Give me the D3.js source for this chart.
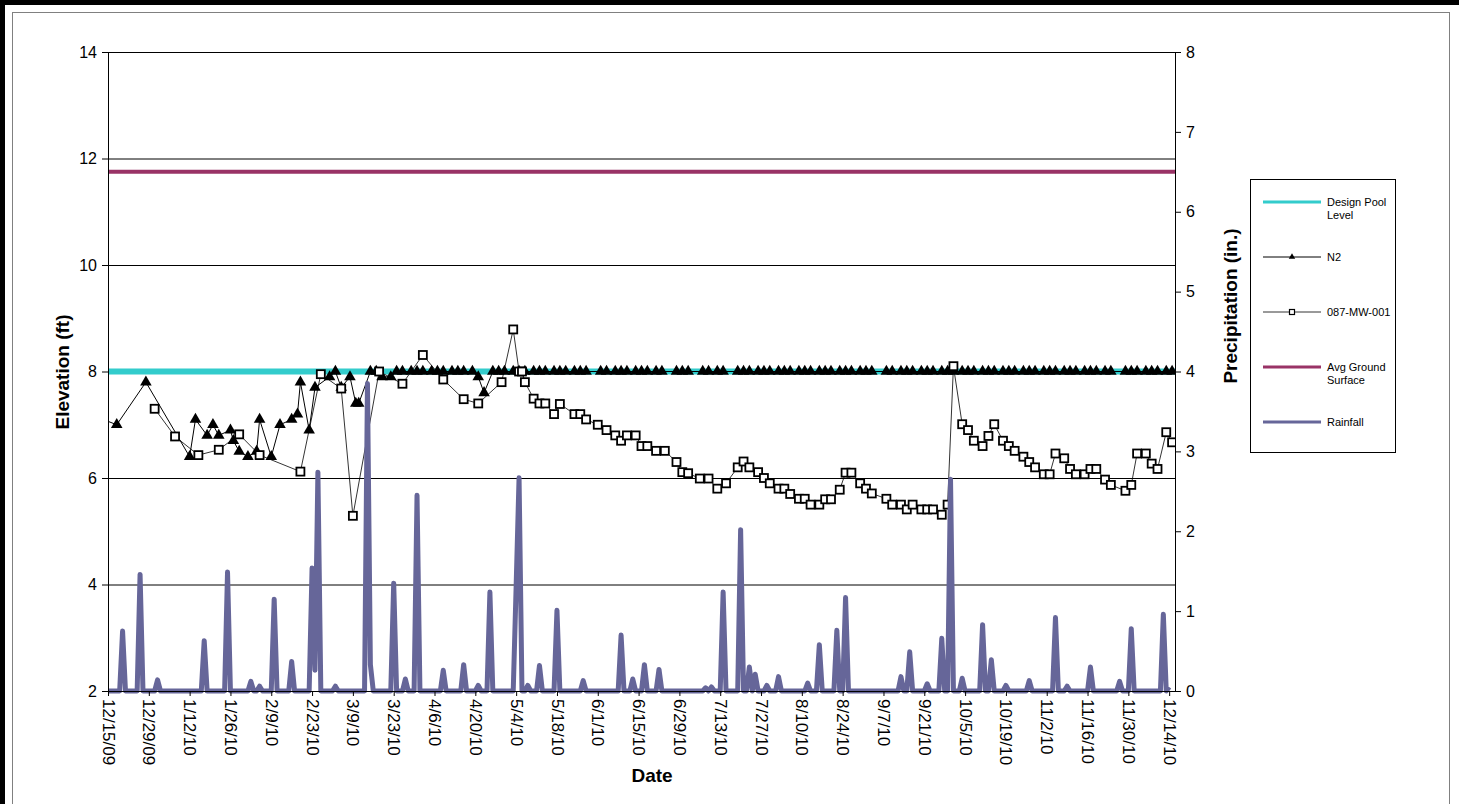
<!DOCTYPE html>
<html lang="en">
<head>
    <meta charset="UTF-8">
    <title>Elevation and Rainfall</title>
    <script src="https://cdn.jsdelivr.net/npm/d3@7"></script>
    <style>
        body{
            margin: 0;
            background: #fff;
            font-family: "Liberation Sans", Arial, sans-serif;
        }
        .axis text{
            font-family: "Liberation Sans", Arial, sans-serif;
            font-size: 16px;
            fill: #000;
        }
        .xAxis text{
            font-size: 17px;
        }
        .axis path, .axis line{
            stroke: #000;
        }
        .grid line{
            stroke: #000;
            stroke-width: 1;
        }
        .grid path{
            display: none;
        }
        .title{
            font-family: "Liberation Sans", Arial, sans-serif;
            font-weight: bold;
            font-size: 19px;
        }
        .legend text{
            font-family: "Liberation Sans", Arial, sans-serif;
            font-size: 11px;
        }
    </style>
</head>
<body>
<svg id="main" width="1459" height="804"></svg>
<script>
    // tick labels
    const xTickLabels = ["12/15/09","12/29/09","1/12/10","1/26/10","2/9/10","2/23/10","3/9/10","3/23/10",
        "4/6/10","4/20/10","5/4/10","5/18/10","6/1/10","6/15/10","6/29/10","7/13/10","7/27/10","8/10/10",
        "8/24/10","9/7/10","9/21/10","10/5/10","10/19/10","11/2/10","11/16/10","11/30/10","12/14/10"]
    const elevTicks = [2,4,6,8,10,12,14]
    const precipTicks = [0,1,2,3,4,5,6,7,8]

    // constant reference levels (ft)
    const designPoolLevel = 8.0
    const avgGroundSurface = 11.75

    // N2
    const n2Dates = ["12/11/09","12/18/09","12/28/09","1/12/10","1/14/10","1/18/10","1/20/10","1/22/10","1/26/10",
        "1/27/10","1/29/10","2/1/10","2/4/10","2/5/10","2/9/10","2/12/10","2/16/10","2/18/10","2/19/10","2/22/10",
        "2/24/10","3/1/10","3/3/10","3/5/10","3/8/10","3/10/10","3/11/10",
        "3/15/10","3/17/10","3/19/10","3/22/10","3/24/10","3/26/10","3/29/10","3/31/10",
        "4/2/10","4/5/10","4/7/10","4/9/10","4/12/10","4/14/10","4/16/10","4/19/10","4/21/10","4/23/10","4/26/10","4/28/10","4/30/10",
        "5/3/10","5/5/10","5/7/10","5/10/10","5/12/10","5/14/10","5/17/10","5/19/10","5/21/10","5/24/10","5/26/10","5/28/10",
        "6/2/10","6/4/10","6/7/10","6/9/10","6/11/10","6/14/10","6/16/10","6/18/10","6/21/10","6/23/10","6/28/10","6/30/10",
        "7/2/10","7/7/10","7/9/10","7/12/10","7/14/10","7/19/10","7/21/10","7/23/10","7/26/10","7/28/10","7/30/10",
        "8/2/10","8/4/10","8/6/10","8/9/10","8/11/10","8/13/10","8/16/10","8/18/10","8/20/10","8/23/10","8/25/10","8/27/10","8/30/10",
        "9/1/10","9/3/10","9/8/10","9/10/10","9/13/10","9/15/10","9/17/10","9/20/10","9/22/10","9/24/10","9/27/10","9/29/10",
        "10/1/10","10/4/10","10/6/10","10/8/10","10/11/10","10/13/10","10/15/10","10/18/10","10/20/10","10/22/10","10/25/10","10/27/10","10/29/10",
        "11/1/10","11/3/10","11/5/10","11/8/10","11/10/10","11/12/10","11/15/10","11/17/10","11/19/10","11/22/10","11/24/10","11/29/10",
        "12/1/10","12/3/10","12/6/10","12/8/10","12/10/10","12/13/10","12/15/10"]
    const n2Values = [7.15,7.0,7.8,6.4,7.1,6.8,7.0,6.8,6.9,
        6.7,6.5,6.4,6.5,7.1,6.4,7.0,7.1,7.2,7.8,6.9,
        7.7,7.9,8.0,7.7,7.9,7.4,7.4,
        8.0,8.0,7.9,7.9,8.0,8.0,8.0,8.0,
        8.0,8.0,8.0,8.0,8.0,8.0,8.0,8.0,7.9,7.6,8.0,8.0,8.0,
        8.0,8.0,8.0,8.0,8.0,8.0,8.0,8.0,8.0,8.0,8.0,8.0,
        8.0,8.0,8.0,8.0,8.0,8.0,8.0,8.0,8.0,8.0,8.0,8.0,
        8.0,8.0,8.0,8.0,8.0,8.0,8.0,8.0,8.0,8.0,8.0,
        8.0,8.0,8.0,8.0,8.0,8.0,8.0,8.0,8.0,8.0,8.0,8.0,8.0,
        8.0,8.0,8.0,8.0,8.0,8.0,8.0,8.0,8.0,8.0,8.0,8.0,
        8.0,8.0,8.0,8.0,8.0,8.0,8.0,8.0,8.0,8.0,8.0,8.0,8.0,
        8.0,8.0,8.0,8.0,8.0,8.0,8.0,8.0,8.0,8.0,8.0,8.0,
        8.0,8.0,8.0,8.0,8.0,8.0,8.0]

    // 087-MW-001
    const mwDates = ["12/31/09","1/7/10","1/15/10","1/22/10","1/29/10","2/5/10","2/19/10","2/26/10","3/5/10","3/9/10",
        "3/18/10","3/26/10","4/2/10","4/9/10","4/16/10","4/21/10","4/29/10","5/3/10","5/5/10","5/6/10","5/7/10",
        "5/10/10","5/12/10","5/14/10","5/17/10","5/19/10","5/24/10","5/26/10","5/28/10",
        "6/1/10","6/4/10","6/7/10","6/9/10","6/11/10","6/14/10","6/16/10","6/18/10","6/21/10","6/24/10","6/28/10","6/30/10",
        "7/2/10","7/6/10","7/9/10","7/12/10","7/15/10","7/19/10","7/21/10","7/23/10","7/26/10","7/28/10","7/30/10",
        "8/2/10","8/4/10","8/6/10","8/9/10","8/11/10","8/13/10","8/16/10","8/18/10","8/20/10","8/23/10","8/25/10","8/27/10","8/30/10",
        "9/1/10","9/3/10","9/8/10","9/10/10","9/13/10","9/15/10","9/17/10","9/20/10","9/22/10","9/24/10","9/27/10","9/29/10",
        "10/1/10","10/4/10","10/6/10","10/8/10","10/11/10","10/13/10","10/15/10","10/18/10","10/20/10","10/22/10","10/25/10","10/27/10","10/29/10",
        "11/1/10","11/3/10","11/5/10","11/8/10","11/10/10","11/12/10","11/15/10","11/17/10","11/19/10","11/22/10","11/24/10","11/29/10",
        "12/1/10","12/3/10","12/6/10","12/8/10","12/10/10","12/13/10","12/15/10"]
    const mwValues = [7.30,6.78,6.43,6.53,6.82,6.43,6.12,7.95,7.68,5.29,
        8.0,7.77,8.31,7.85,7.48,7.40,7.80,8.79,8.0,8.0,7.80,
        7.49,7.40,7.40,7.20,7.39,7.20,7.20,7.10,
        7.00,6.90,6.80,6.70,6.80,6.80,6.60,6.60,6.51,6.51,6.30,6.11,
        6.09,5.99,5.99,5.80,5.90,6.20,6.31,6.20,6.11,6.00,5.90,
        5.80,5.80,5.70,5.61,5.61,5.50,5.50,5.60,5.60,5.78,6.10,6.10,5.90,
        5.80,5.71,5.61,5.50,5.50,5.41,5.50,5.41,5.41,5.41,5.31,5.50,
        8.10,7.01,6.90,6.70,6.60,6.79,7.01,6.70,6.60,6.51,6.40,6.30,6.20,
        6.07,6.07,6.46,6.37,6.17,6.07,6.07,6.17,6.17,5.97,5.87,5.76,
        5.87,6.46,6.46,6.27,6.17,6.86,6.67]

    // Rainfall (in.), days with rain; every other day of the record is 0
    const rainDates = ["12/20/09","12/26/09","1/1/10","1/17/10","1/25/10","2/2/10","2/5/10","2/10/10","2/16/10",
        "2/23/10","2/24/10","2/25/10","3/3/10","3/14/10","3/15/10","3/23/10","3/27/10","3/31/10","4/9/10","4/16/10",
        "4/21/10","4/25/10","5/4/10","5/5/10","5/8/10","5/12/10","5/18/10","5/27/10","6/9/10","6/13/10","6/17/10",
        "6/22/10","7/8/10","7/10/10","7/14/10","7/20/10","7/23/10","7/25/10","7/29/10","8/2/10","8/12/10","8/16/10",
        "8/22/10","8/25/10","9/13/10","9/16/10","9/22/10","9/27/10","9/30/10","10/4/10","10/11/10","10/14/10",
        "10/19/10","10/27/10","11/5/10","11/9/10","11/17/10","11/27/10","12/1/10","12/12/10","12/14/10"]
    const rainValues = [0.75,1.46,0.14,0.63,1.49,0.12,0.06,1.15,0.37,
        1.54,0.26,2.74,0.06,3.85,0.33,1.35,0.15,2.45,0.26,0.33,
        0.07,1.24,1.31,2.67,0.07,0.32,1.01,0.13,0.70,0.15,0.33,
        0.27,0.04,0.05,1.24,2.02,0.30,0.21,0.07,0.18,0.10,0.58,
        0.76,1.17,0.18,0.49,0.09,0.66,2.65,0.16,0.83,0.39,
        0.07,0.13,0.92,0.06,0.30,0.12,0.78,0.96,0.05]

    const parse = d3.timeParse("%m/%d/%y")
    const width = 1459, height = 804
    const plot = {left: 108, right: 1175, top: 52, bottom: 691}

    const startDate = parse("12/15/09"), endDate = parse("12/16/10")

    const xScale = d3.scaleTime()
        .domain([startDate, endDate])
        .range([plot.left, plot.right])
    const yLeft = d3.scaleLinear()
        .domain([2, 14])
        .range([plot.bottom, plot.top])
    const yRight = d3.scaleLinear()
        .domain([0, 8])
        .range([plot.bottom, plot.top])

    const n2 = n2Dates.map((d, i) => ({date: parse(d), value: n2Values[i]}))
    const mw = mwDates.map((d, i) => ({date: parse(d), value: mwValues[i]}))
    const rainLookup = new Map(rainDates.map((d, i) => [+parse(d), rainValues[i]]))
    const rain = d3.timeDay.range(startDate, parse("12/15/10"))
        .map(d => ({date: d, value: rainLookup.get(+d) || 0}))

    const svg = d3.select("svg#main")

    // outer frame
    svg.append("rect").attr("x", 0).attr("y", 0).attr("width", width).attr("height", 5).attr("fill", "#000")
    svg.append("rect").attr("x", 0).attr("y", 0).attr("width", 5).attr("height", height).attr("fill", "#000")
    svg.append("rect").attr("x", 12.5).attr("y", 12.5).attr("width", 1437).attr("height", 820)
        .attr("fill", "none").attr("stroke", "#808080")

    svg.append("clipPath").attr("id", "plotClip")
        .append("rect")
        .attr("x", plot.left).attr("y", plot.top - 10)
        .attr("width", plot.right - plot.left).attr("height", plot.bottom - plot.top + 20)

    // gridlines
    svg.append("g")
        .attr("class", "grid")
        .attr("transform", `translate(${plot.left},0)`)
        .call(d3.axisLeft(yLeft).tickValues(elevTicks).tickSize(-(plot.right - plot.left)).tickFormat(""))

    const group = svg.append("g").attr("clip-path", "url(#plotClip)")

    const lineLeft = d3.line().x(d => xScale(d.date)).y(d => yLeft(d.value))

    // Design Pool Level
    group.append("path")
        .datum([{date: startDate, value: designPoolLevel}, {date: endDate, value: designPoolLevel}])
        .attr("d", lineLeft)
        .attr("stroke", "#33CCCC").attr("stroke-width", 6).attr("fill", "none")

    // N2
    group.append("path")
        .datum(n2)
        .attr("d", lineLeft)
        .attr("stroke", "#000").attr("stroke-width", 1).attr("fill", "none")
    group.selectAll(".n2")
        .data(n2)
        .enter().append("path")
        .attr("class", "n2")
        .attr("transform", d => `translate(${xScale(d.date)},${yLeft(d.value)})`)
        .attr("d", d3.symbol(d3.symbolTriangle).size(58))
        .attr("fill", "#000")

    // 087-MW-001
    group.append("path")
        .datum(mw)
        .attr("d", lineLeft)
        .attr("stroke", "#000").attr("stroke-width", 0.8).attr("fill", "none")
    group.selectAll(".mw")
        .data(mw)
        .enter().append("rect")
        .attr("class", "mw")
        .attr("x", d => xScale(d.date) - 4)
        .attr("y", d => yLeft(d.value) - 4)
        .attr("width", 8).attr("height", 8)
        .attr("fill", "#fff").attr("stroke", "#000").attr("stroke-width", 1.8)

    // Avg Ground Surface
    group.append("path")
        .datum([{date: startDate, value: avgGroundSurface}, {date: endDate, value: avgGroundSurface}])
        .attr("d", lineLeft)
        .attr("stroke", "#993366").attr("stroke-width", 4).attr("fill", "none")

    // Rainfall on the right axis
    group.append("path")
        .datum(rain)
        .attr("d", d3.line().x(d => xScale(d.date)).y(d => yRight(d.value)))
        .attr("stroke", "#666699").attr("stroke-width", 5).attr("stroke-linejoin", "round")
        .attr("fill", "none")

    // axes
    svg.append("g")
        .attr("class", "axis")
        .attr("transform", `translate(${plot.left},0)`)
        .call(d3.axisLeft(yLeft).tickValues(elevTicks).tickSize(6).tickPadding(5).tickSizeOuter(0))

    svg.append("g")
        .attr("class", "axis")
        .attr("transform", `translate(${plot.right},0)`)
        .call(d3.axisRight(yRight).tickValues(precipTicks).tickSize(6).tickPadding(5).tickSizeOuter(0))

    const xAxisGroup = svg.append("g")
        .attr("class", "axis xAxis")
        .attr("transform", `translate(0,${plot.bottom})`)
        .call(d3.axisBottom(xScale)
            .tickValues(xTickLabels.map(parse))
            .tickFormat((d, i) => xTickLabels[i])
            .tickSize(5).tickSizeOuter(0))
    xAxisGroup.selectAll("text")
        .attr("transform", "rotate(90)")
        .attr("text-anchor", "start")
        .attr("x", 8).attr("y", 0).attr("dy", "0.35em")

    // axis titles
    svg.append("text").attr("class", "title")
        .attr("transform", "translate(62,372) rotate(-90)")
        .attr("text-anchor", "middle").attr("dy", "0.35em")
        .text("Elevation (ft)")
    svg.append("text").attr("class", "title")
        .attr("transform", "translate(1230,306) rotate(-90)")
        .attr("text-anchor", "middle").attr("dy", "0.35em")
        .text("Precipitation (in.)")
    svg.append("text").attr("class", "title")
        .attr("x", 652).attr("y", 775)
        .attr("text-anchor", "middle").attr("dy", "0.35em")
        .text("Date")

    // legend
    const legendItems = [
        {name: ["Design Pool", "Level"], color: "#33CCCC", width: 3, marker: null},
        {name: ["N2"], color: "#000", width: 1, marker: "triangle"},
        {name: ["087-MW-001"], color: "#000", width: 0.8, marker: "square"},
        {name: ["Avg Ground", "Surface"], color: "#993366", width: 3, marker: null},
        {name: ["Rainfall"], color: "#666699", width: 3, marker: null}
    ]
    const legend = svg.append("g").attr("class", "legend")
    legend.append("rect")
        .attr("x", 1250.5).attr("y", 179.5).attr("width", 145).attr("height", 273)
        .attr("fill", "#fff").attr("stroke", "#000")
    const legends = legend.selectAll(".legends")
        .data(legendItems)
        .enter().append("g")
        .attr("class", "legends")
        .attr("transform", (_, i) => `translate(1263,${202 + i * 55})`)
    legends.append("line")
        .attr("x1", 0).attr("x2", 58)
        .attr("stroke", d => d.color).attr("stroke-width", d => d.width)
    legends.filter(d => d.marker === "triangle").append("path")
        .attr("transform", "translate(29,0)")
        .attr("d", d3.symbol(d3.symbolTriangle).size(18))
        .attr("fill", "#000")
    legends.filter(d => d.marker === "square").append("rect")
        .attr("x", 26.5).attr("y", -2.5).attr("width", 5).attr("height", 5)
        .attr("fill", "#fff").attr("stroke", "#000").attr("stroke-width", 1.2)
    legends.append("text")
        .attr("x", 64).attr("y", 4)
        .selectAll("tspan")
        .data(d => d.name)
        .enter().append("tspan")
        .attr("x", 64).attr("dy", (_, i) => i === 0 ? 0 : 13)
        .text(d => d)
</script>
</body>
</html>
